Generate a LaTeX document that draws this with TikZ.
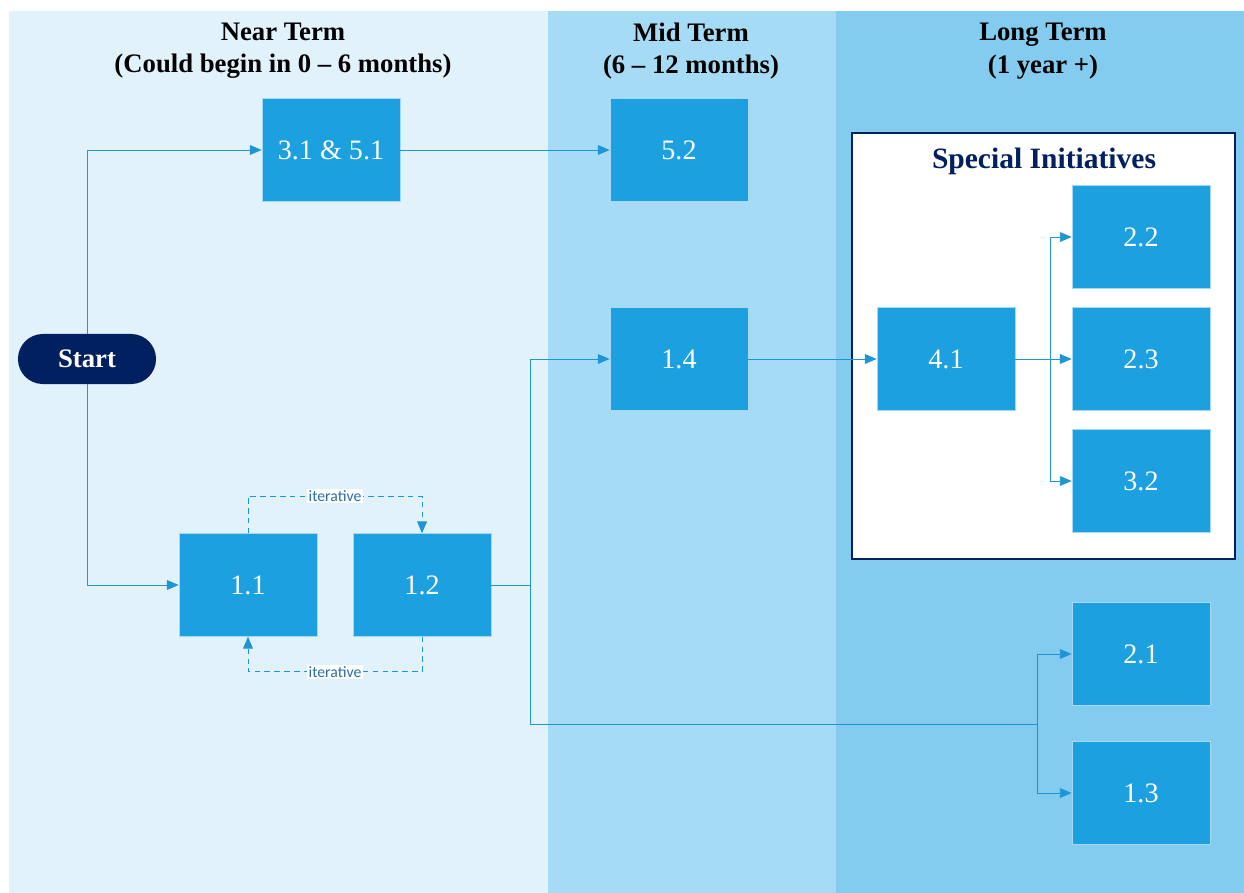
\documentclass[tikz,border=0pt]{standalone}
\usepackage{xcolor}
\usepackage{fontspec}
\setmainfont{Liberation Serif}
\newfontfamily\labelfont{Carlito}
\usepackage{tikz}
\usetikzlibrary{shapes,arrows,arrows.meta,positioning}

\definecolor{nearbg}{HTML}{E1F2FB}
\definecolor{midbg}{HTML}{A6DBF5}
\definecolor{longbg}{HTML}{83CCEF}
\definecolor{boxblue}{HTML}{1DA0E0}
\definecolor{lineblue}{HTML}{1E96D6}
\definecolor{navy}{HTML}{002060}
\definecolor{itertext}{HTML}{2A6EA6}

\begin{document}
\begin{tikzpicture}[x=0.025cm, y=-0.025cm,
    box/.style={rectangle, draw=white!60!boxblue, fill=boxblue, text=white, inner sep=0pt,
        minimum width=3.45cm, minimum height=2.57cm, font=\fontsize{20}{24}\selectfont},
    head/.style={align=center, font=\fontsize{19}{23}\selectfont\bfseries},
    link/.style={draw=lineblue, line width=0.7pt, -{Triangle[length=8.5pt,width=7pt]}},
    iter/.style={draw=lineblue, line width=0.7pt, dash pattern=on 4pt off 3pt, -{Triangle[length=8.5pt,width=7pt]}},
    iterlabel/.style={fill=white, inner sep=1pt, text=itertext, font=\labelfont\fontsize{11.2}{12}\selectfont}]
    \useasboundingbox (0,0) rectangle (1244,893);
    % time bands
    \fill[nearbg] (9,11) rectangle (548,893);
    \fill[midbg] (548,11) rectangle (836,893);
    \fill[longbg] (836,11) rectangle (1244,893);

    \node (nearhead) [head] at (283,51) {Near Term\\(Could begin in 0 -- 6 months)};
    \node (midhead) [head] at (691,51) {Mid Term\\(6 -- 12 months)};
    \node (longhead) [head] at (1043,51) {Long Term\\(1 year +)};

    % special initiatives frame
    \node (special) [rectangle, draw=navy, line width=0.8pt, fill=white, minimum width=9.575cm, minimum height=10.65cm] at (1043.5,346) {};
    \node (specialhead) [text=navy, font=\fontsize{21}{24}\selectfont\bfseries] at (1044,161) {Special Initiatives};

    \node (start) [rectangle, rounded corners=0.62cm, fill=navy, text=white, minimum width=3.45cm, minimum height=1.25cm, font=\fontsize{19}{23}\selectfont\bfseries] at (87,359) {Start};

    \node (s31) [box] at (331,150) {3.1 \& 5.1};
    \node (s52) [box] at (679,150) {5.2};
    \node (s11) [box] at (248,585) {1.1};
    \node (s12) [box, right of=s11, node distance=4.35cm] {1.2};
    \node (s14) [box] at (679,359) {1.4};
    \node (s41) [box] at (946,359) {4.1};
    \node (s23) [box, right of=s41, node distance=4.875cm] {2.3};
    \node (s22) [box] at (1141,237) {2.2};
    \node (s32) [box] at (1141,481) {3.2};
    \node (s21) [box] at (1141,654) {2.1};
    \node (s13) [box] at (1141,793) {1.3};

    \coordinate (split12) at (530,585);
    \coordinate (split21) at (1037,724);
    \coordinate (split41) at (1050,359);

    \draw[link] (start.north) |- (s31.west);
    \draw[link] (start.south) |- (s11.west);
    \draw[link] (s31) -- (s52);
    \draw[draw=lineblue, line width=0.7pt] (s12.east) -- (split12);
    \draw[link] (split12) |- (s14.west);
    \draw[draw=lineblue, line width=0.7pt] (split12) |- (split21);
    \draw[link] (split21) |- (s21.west);
    \draw[link] (split21) |- (s13.west);
    \draw[link] (s14) -- (s41);
    \draw[link] (s41) -- (s23);
    \draw[link] (split41) |- (s22.west);
    \draw[link] (split41) |- (s32.west);

    \draw[iter] (s11.north) -- ++(0,-37) -| node[iterlabel, pos=0.25] {iterative} (s12.north);
    \draw[iter] (s12.south) -- ++(0,35) -| node[iterlabel, pos=0.25] {iterative} (s11.south);
\end{tikzpicture}
\end{document}
